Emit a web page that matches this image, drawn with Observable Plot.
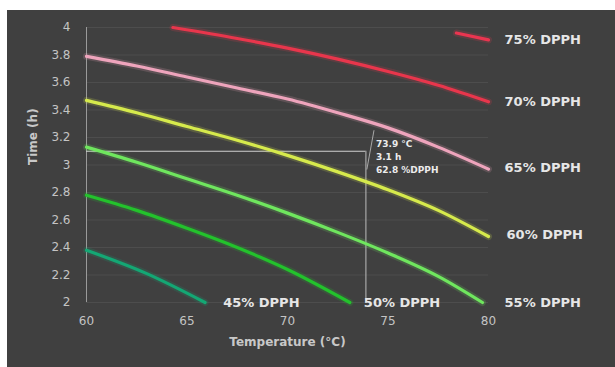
<!DOCTYPE html>
<html>
<head>
<meta charset="utf-8">
<script src="https://cdn.jsdelivr.net/npm/d3@7"></script>
<script src="https://cdn.jsdelivr.net/npm/@observablehq/plot@0.6"></script>
<style>
  html, body { margin: 0; padding: 0; background: #ffffff; }
  #chart { position: absolute; left: 7px; top: 10px; width: 608px; height: 357px; background: #404040; }
  #chart svg { display: block; }
</style>
</head>
<body>
<div id="chart"></div>
<script>
// Series names
const seriesNames = ["75% DPPH", "70% DPPH", "65% DPPH", "60% DPPH", "55% DPPH", "50% DPPH", "45% DPPH"];
const seriesColors = ["#ea3550", "#e8364c", "#eea4bc", "#d6ea4c", "#6fe65e", "#23c22c", "#14a774"];

// Temperature (°C) and Time (h) per series
const temp75 = [78.4, 80];
const time75 = [3.96, 3.91];
const temp70 = [64.3, 67.5, 70, 72.5, 75, 77.5, 80];
const time70 = [4.0, 3.92, 3.85, 3.77, 3.68, 3.58, 3.46];
const temp65 = [60, 62.5, 65, 67.5, 70, 72.5, 75, 77.5, 80];
const time65 = [3.79, 3.72, 3.64, 3.56, 3.48, 3.38, 3.27, 3.13, 2.97];
const temp60 = [60, 62.5, 65, 67.5, 70, 72.5, 75, 77.5, 80];
const time60 = [3.47, 3.38, 3.28, 3.18, 3.07, 2.95, 2.82, 2.67, 2.48];
const temp55 = [60, 62.5, 65, 67.5, 70, 72.5, 75, 77.5, 79.7];
const time55 = [3.13, 3.02, 2.90, 2.78, 2.65, 2.51, 2.36, 2.19, 2.0];
const temp50 = [60, 62.5, 65, 67.5, 70, 73.1];
const time50 = [2.78, 2.67, 2.54, 2.40, 2.24, 2.0];
const temp45 = [60, 63, 65.9];
const time45 = [2.38, 2.21, 2.0];

// Label anchors (temperature, time)
const labelTemp = [80.4, 80.4, 80.4, 80.5, 80.4, 73.4, 66.4];
const labelTime = [3.91, 3.46, 2.98, 2.49, 2.0, 2.0, 2.0];

// Ticks
const xTicks = [60, 65, 70, 75, 80];
const yTicks = [2, 2.2, 2.4, 2.6, 2.8, 3, 3.2, 3.4, 3.6, 3.8, 4];
const yTickLabels = ["2", "2.2", "2.4", "2.6", "2.8", "3", "3.2", "3.4", "3.6", "3.8", "4"];

// Optimum annotation
const optTemp = [73.9];
const optTime = [3.1];
const optText = ["73.9 °C\n3.1 h\n62.8 %DPPH"];
const leaderTemp = [74.3, 73.95];
const leaderTime = [3.25, 2.97];

const temps = [temp75, temp70, temp65, temp60, temp55, temp50, temp45];
const times = [time75, time70, time65, time60, time55, time50, time45];
const rows = [];
seriesNames.forEach((s, i) => temps[i].forEach((t, j) => rows.push({series: s, T: t, h: times[i][j]})));
const labels = seriesNames.map((s, i) => ({series: s, T: labelTemp[i], h: labelTime[i]}));

const plot = Plot.plot({
  width: 608,
  height: 357,
  marginLeft: 79,
  marginRight: 127,
  marginTop: 17,
  marginBottom: 65,
  style: {background: "#404040", color: "#c8c8c8", fontFamily: "DejaVu Sans, sans-serif", fontSize: "12px"},
  x: {domain: [60, 80]},
  y: {domain: [2, 4]},
  color: {domain: seriesNames, range: seriesColors},
  marks: [
    Plot.ruleY(yTicks, {stroke: "#4d4d4d", strokeWidth: 1}),
    Plot.axisX({ticks: xTicks, tickSize: 0, tickPadding: 14, label: null, fill: "#c4c4c4", fontSize: 12}),
    Plot.axisY({ticks: yTicks, tickFormat: (d) => yTickLabels[yTicks.indexOf(d)], tickSize: 0, tickPadding: 16, label: null, fill: "#c4c4c4", fontSize: 12}),
    Plot.ruleX([60], {y1: 2, y2: 4, stroke: "#9a9a9a", strokeWidth: 1}),
    Plot.ruleY(optTime, {x1: 60, x2: optTemp[0], stroke: "#d0d0d0", strokeWidth: 1.2}),
    Plot.ruleX(optTemp, {y1: 2, y2: optTime[0], stroke: "#a8a8a8", strokeWidth: 1.2}),
    Plot.line(leaderTemp.map((t, i) => ({T: t, h: leaderTime[i]})), {x: "T", y: "h", stroke: "#a8a8a8", strokeWidth: 1}),
    Plot.line(rows, {x: "T", y: "h", z: "series", stroke: "series", curve: "monotone-x", strokeWidth: 7, strokeOpacity: 0.18}),
    Plot.line(rows, {x: "T", y: "h", z: "series", stroke: "series", curve: "monotone-x", strokeWidth: 3.2}),
    Plot.text(labels, {x: "T", y: "h", text: "series", textAnchor: "start", dx: 8, fill: "#e6e6e6", fontWeight: "bold", fontSize: 13}),
    Plot.text(optText, {x: () => 74.4, y: () => 3.07, text: d => d, textAnchor: "start", lineAnchor: "middle", lineHeight: 1.45, fill: "#ececec", fontWeight: "bold", fontSize: 9}),
    Plot.text(["Temperature (°C)"], {frameAnchor: "bottom", dy: 43, fill: "#c8c8c8", fontWeight: "bold", fontSize: 12}),
    Plot.text(["Time (h)"], {frameAnchor: "left", dx: -53, rotate: -90, fill: "#c8c8c8", fontWeight: "bold", fontSize: 12})
  ]
});
document.getElementById("chart").appendChild(plot);
</script>
</body>
</html>
